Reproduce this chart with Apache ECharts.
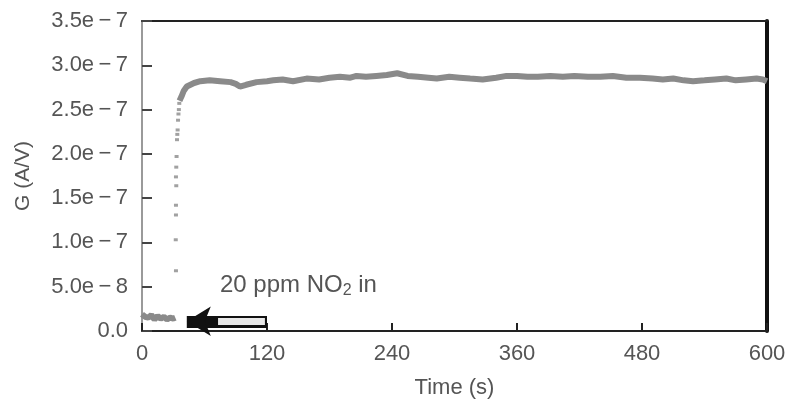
<!DOCTYPE html>
<html>
<head>
<meta charset="utf-8">
<script src="https://cdn.jsdelivr.net/npm/echarts@6/dist/echarts.min.js"></script>
<style>
html,body{margin:0;padding:0;background:#fff;}
#chart{width:793px;height:404px;}
</style>
</head>
<body>
<div id="chart"></div>
<script>
// ---- data ----
const xTicks = [0, 120, 240, 360, 480, 600];
const yTickLabels = ['0.0', '5.0e\u2009\u2212\u20098', '1.0e\u2009\u2212\u20097', '1.5e\u2009\u2212\u20097', '2.0e\u2009\u2212\u20097', '2.5e\u2009\u2212\u20097', '3.0e\u2009\u2212\u20097', '3.5e\u2009\u2212\u20097'];

// baseline before NO2 arrives
const baseTime = [0, 3, 6, 9, 12, 15, 18, 21, 24, 27, 30, 32];
const baseG = [1.9e-8, 1.6e-8, 1.5e-8, 1.8e-8, 1.3e-8, 1.7e-8, 1.4e-8, 1.6e-8, 1.3e-8, 1.5e-8, 1.4e-8, 1.5e-8];

// fast rise (sparse points)
const riseTime = [32.6, 32.4, 32.6, 32.6, 32.9, 32.6, 32.9, 33.2, 33.6, 33.9, 34.2, 34.6, 35.0, 35.4, 35.8];
const riseG = [0.68e-7, 1.03e-7, 1.31e-7, 1.42e-7, 1.64e-7, 1.74e-7, 1.85e-7, 1.97e-7, 2.16e-7, 2.22e-7, 2.27e-7, 2.38e-7, 2.45e-7, 2.50e-7, 2.57e-7];

// saturation plateau
const platTime = [36, 38, 40, 43, 50, 56, 65, 75, 85, 90, 94, 100, 110, 120, 126, 135, 145, 158, 170, 180, 190, 200, 206, 215, 225, 235, 245, 255, 265, 275, 283, 295, 305, 315, 327, 340, 350, 360, 370, 380, 392, 404, 415, 428, 440, 452, 465, 478, 490, 500, 510, 520, 529, 540, 550, 561, 570, 580, 590, 596, 600];
const platG = [2.60e-7, 2.65e-7, 2.71e-7, 2.76e-7, 2.80e-7, 2.82e-7, 2.83e-7, 2.82e-7, 2.81e-7, 2.79e-7, 2.76e-7, 2.78e-7, 2.81e-7, 2.82e-7, 2.83e-7, 2.84e-7, 2.82e-7, 2.85e-7, 2.84e-7, 2.86e-7, 2.87e-7, 2.86e-7, 2.88e-7, 2.87e-7, 2.88e-7, 2.89e-7, 2.91e-7, 2.88e-7, 2.87e-7, 2.86e-7, 2.85e-7, 2.87e-7, 2.86e-7, 2.85e-7, 2.84e-7, 2.86e-7, 2.88e-7, 2.88e-7, 2.87e-7, 2.87e-7, 2.88e-7, 2.87e-7, 2.88e-7, 2.87e-7, 2.87e-7, 2.88e-7, 2.86e-7, 2.86e-7, 2.85e-7, 2.84e-7, 2.85e-7, 2.83e-7, 2.82e-7, 2.83e-7, 2.84e-7, 2.85e-7, 2.83e-7, 2.84e-7, 2.85e-7, 2.84e-7, 2.82e-7];

// annotation arrow (gas inlet marker)
const arrowTail = 120, arrowHead = 43, arrowG = 1.1e-8;
const annotationText = '20 ppm NO{sub|2} in';

const zip = (a, b) => a.map((v, i) => [v, b[i]]);

const chart = echarts.init(document.getElementById('chart'));
const FONT = '"Liberation Sans", Arial, sans-serif';
const GRAY = '#8a8a8a';

chart.setOption({
  backgroundColor: '#ffffff',
  animation: false,
  grid: { left: 142, right: 26, top: 21, bottom: 73 },
  xAxis: [{
    type: 'value', min: 0, max: 600, interval: 120,
    axisLine: { show: true, lineStyle: { color: '#222', width: 2 } },
    axisTick: { show: true, inside: true, length: 8, lineStyle: { color: '#222', width: 2 } },
    axisLabel: { color: '#555', fontSize: 22, fontFamily: FONT, margin: 12 },
    splitLine: { show: false },
    name: 'Time (s)', nameLocation: 'middle', nameGap: 46,
    nameTextStyle: { color: '#555', fontSize: 22, fontFamily: FONT }
  }, {
    type: 'value', position: 'top', min: 0, max: 600,
    axisLine: { show: true, onZero: false, lineStyle: { color: '#222', width: 2 } },
    axisTick: { show: false }, axisLabel: { show: false }, splitLine: { show: false }
  }],
  yAxis: [{
    type: 'value', min: 0, max: 3.5e-7, interval: 0.5e-7,
    axisLine: { show: true, lineStyle: { color: '#9a9a9a', width: 2 } },
    axisTick: { show: true, inside: true, length: 10, lineStyle: { color: '#444', width: 2 } },
    axisLabel: {
      color: '#555', fontSize: 22, fontFamily: FONT, margin: 14,
      formatter: v => yTickLabels[Math.round(v / 0.5e-7)]
    },
    splitLine: { show: false },
    name: 'G (A/V)', nameLocation: 'middle', nameGap: 108, nameRotate: 90,
    nameTextStyle: { color: '#555', fontSize: 21, fontFamily: FONT }
  }, {
    type: 'value', position: 'right', min: 0, max: 3.5e-7,
    axisLine: { show: true, onZero: false, lineStyle: { color: '#111', width: 4 } },
    axisTick: { show: false }, axisLabel: { show: false }, splitLine: { show: false }
  }],
  series: [
    {
      type: 'line', data: zip(baseTime, baseG), showSymbol: false,
      lineStyle: { color: GRAY, width: 6 }, z: 3
    },
    {
      type: 'scatter', data: zip(riseTime, riseG), symbol: 'rect', symbolSize: [4, 3],
      itemStyle: { color: GRAY }, z: 3
    },
    {
      type: 'line', data: zip(platTime, platG), showSymbol: false,
      lineStyle: { color: GRAY, width: 6 }, z: 3
    },
    {
      type: 'line', data: [], z: 5,
      markLine: {
        silent: true, symbol: ['none', 'arrow'], symbolSize: [22, 24],
        label: { show: false },
        lineStyle: { color: '#111', width: 12, type: 'solid' },
        data: [[{ coord: [arrowTail, arrowG] }, { coord: [arrowHead, arrowG] }]]
      }
    },
    {
      type: 'line', data: [], z: 6,
      markLine: {
        silent: true, symbol: ['none', 'none'],
        label: { show: false },
        lineStyle: { color: '#e8e8e8', width: 7, type: 'solid' },
        data: [[{ coord: [arrowTail - 2, arrowG] }, { coord: [arrowHead + 30, arrowG] }]]
      }
    }
  ],
  graphic: [{
    type: 'text', left: 220, top: 273, z: 10,
    style: {
      text: annotationText, fill: '#555', font: '24px ' + FONT,
      rich: { sub: { fontSize: 16, fill: '#555', fontFamily: FONT, padding: [11, 0, 0, 0] } }
    }
  }]
});
</script>
</body>
</html>
